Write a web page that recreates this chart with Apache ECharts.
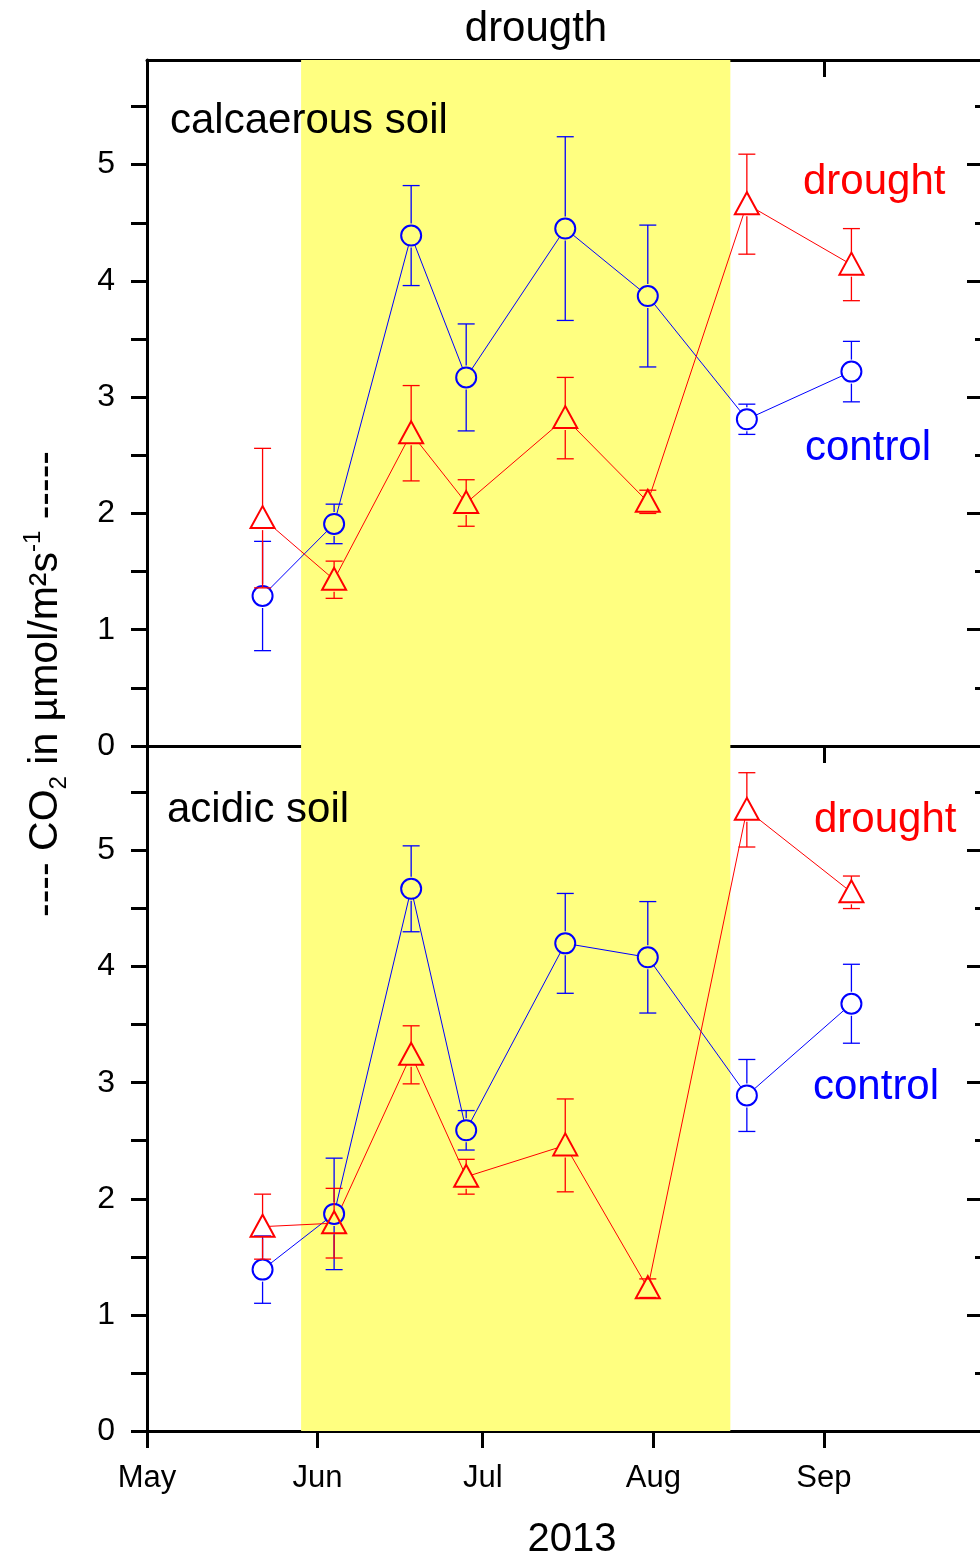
<!DOCTYPE html>
<html>
<head>
<meta charset="utf-8">
<style>
  html, body { margin: 0; padding: 0; background: #fff; }
  #chart { width: 980px; height: 1561px; }
</style>
<script src="https://cdn.jsdelivr.net/npm/echarts@6/dist/echarts.min.js"></script>
</head>
<body>
<div id="chart"></div>
<script>
// sampling dates (2013)
const sampleDates = ['2013-05-22', '2013-06-04', '2013-06-18', '2013-06-28', '2013-07-16', '2013-07-31', '2013-08-18', '2013-09-06'];

// calcaerous soil
const calcControl = [1.29, 1.91, 4.39, 3.17, 4.45, 3.87, 2.81, 3.22];
const calcControlErr = [0.47, 0.17, 0.43, 0.46, 0.79, 0.61, 0.13, 0.26];
const calcDrought = [1.96, 1.43, 2.69, 2.09, 2.82, 2.10, 4.66, 4.14];
const calcDroughtErr = [0.60, 0.16, 0.41, 0.20, 0.35, 0.10, 0.43, 0.31];

// acidic soil
const acidControl = [1.39, 1.87, 4.67, 2.59, 4.20, 4.08, 2.89, 3.68];
const acidControlErr = [0.29, 0.48, 0.37, 0.17, 0.43, 0.48, 0.31, 0.34];
const acidDrought = [1.76, 1.79, 3.24, 2.19, 2.46, 1.23, 5.35, 4.64];
const acidDroughtErr = [0.28, 0.30, 0.25, 0.15, 0.40, 0.08, 0.32, 0.14];

const droughtPeriod = ['2013-05-29', '2013-08-15'];
const xRange = ['2013-05-01', '2013-10-01'];
const monthTicks = ['2013-05-01', '2013-06-01', '2013-07-01', '2013-08-01', '2013-09-01'];
const monthLabels = ['May', 'Jun', 'Jul', 'Aug', 'Sep'];
const yTicks = [0, 0.5, 1, 1.5, 2, 2.5, 3, 3.5, 4, 4.5, 5, 5.5];
const yLabels = [0, 1, 2, 3, 4, 5];
const yMinor = [0.5, 1.5, 2.5, 3.5, 4.5, 5.5];

const FONT = '"Liberation Sans", Arial, sans-serif';
const BLUE = '#0000ff';
const RED = '#ff0000';
const YELLOW = '#ffff80';

function ts(s) { return new Date(s + 'T00:00:00').getTime(); }

const chart = echarts.init(document.getElementById('chart'));

const axisLine = { show: true, onZero: false, lineStyle: { color: '#000', width: 3 } };

function xAxis(grid, position, tickMode) {
  return {
    type: 'value', gridIndex: grid, position: position,
    min: ts(xRange[0]), max: ts(xRange[1]),
    axisLine: axisLine,
    axisTick: {
      show: tickMode !== 'none', inside: tickMode === 'in', length: 17,
      customValues: monthTicks.map(ts),
      lineStyle: { color: '#000', width: 3 }
    },
    axisLabel: {
      show: tickMode === 'out', margin: 32,
      customValues: monthTicks.map(ts),
      fontSize: 31, fontFamily: FONT, color: '#000',
      formatter: function (v) { return monthLabels[monthTicks.map(ts).indexOf(v)] || ''; }
    },
    splitLine: { show: false }
  };
}

function yAxis(grid, position, ticks, len, inside, labels) {
  return {
    type: 'value', gridIndex: grid, position: position,
    min: 0, max: 5.9,
    axisLine: axisLine,
    axisTick: { show: true, inside: inside, length: len, customValues: ticks,
      lineStyle: { color: '#000', width: 3 } },
    axisLabel: { show: !!labels, customValues: labels || [], margin: 32,
      fontSize: 32, fontFamily: FONT, color: '#000' },
    splitLine: { show: false }
  };
}

function lineSeries(grid, vals, color) {
  return {
    type: 'line', xAxisIndex: grid * 2, yAxisIndex: grid * 3,
    data: sampleDates.map((d, i) => [ts(d), vals[i]]),
    symbol: 'none', silent: true, z: 2,
    lineStyle: { color: color, width: 1 }
  };
}

function areaSeries(grid) {
  return {
    type: 'line', xAxisIndex: grid * 2, yAxisIndex: grid * 3, data: [], z: 0, silent: true,
    markArea: {
      silent: true,
      itemStyle: { color: YELLOW, opacity: 1 },
      data: [[{ xAxis: ts(droughtPeriod[0]) }, { xAxis: ts(droughtPeriod[1]) }]]
    }
  };
}

function markerSeries(grid, vals, errs, shape, color, pass) {
  return {
    type: 'custom', xAxisIndex: grid * 2, yAxisIndex: grid * 3,
    z: pass === 'fill' ? 3 : 4, silent: true, clip: false,
    data: sampleDates.map((d, i) => [ts(d), vals[i], errs[i]]),
    renderItem: function (params, api) {
      const x = api.value(0), y = api.value(1), e = api.value(2);
      const c = api.coord([x, y]);
      const hi = api.coord([x, y + e]);
      const lo = api.coord([x, y - e]);
      let el;
      if (shape === 'circle') {
        el = { type: 'circle', shape: { cx: c[0], cy: c[1], r: 10 } };
      } else {
        el = { type: 'polygon', shape: { points: [[c[0], c[1] - 12], [c[0] - 12, c[1] + 10], [c[0] + 12, c[1] + 10]] } };
      }
      if (pass === 'fill') {
        const inside = x >= ts(droughtPeriod[0]) && x <= ts(droughtPeriod[1]);
        el.style = { fill: inside ? YELLOW : '#fff' };
        return el;
      }
      el.style = { fill: 'none', stroke: color, lineWidth: 2 };
      const seg = (x1, y1, x2, y2) => ({ type: 'line', shape: { x1: x1, y1: y1, x2: x2, y2: y2 },
        style: { stroke: color, lineWidth: 1.3 } });
      const r = 12, cap = 8.5;
      const kids = [];
      if (hi[1] < c[1] - r) kids.push(seg(c[0], hi[1], c[0], c[1] - r));
      if (lo[1] > c[1] + r) kids.push(seg(c[0], c[1] + r, c[0], lo[1]));
      kids.push(seg(c[0] - cap, hi[1], c[0] + cap, hi[1]));
      kids.push(seg(c[0] - cap, lo[1], c[0] + cap, lo[1]));
      kids.push(el);
      return { type: 'group', children: kids };
    }
  };
}

function label(text, x, y, size, color, align) {
  return { type: 'text', x: x, y: y, z: 10,
    style: { text: text, fontSize: size, fontFamily: FONT, fill: color, align: align || 'left', verticalAlign: 'middle' } };
}

const option = {
  backgroundColor: '#fff',
  animation: false,
  grid: [
    { left: 147, top: 60, width: 842, height: 686, outerBoundsMode: 'none' },
    { left: 147, top: 746, width: 842, height: 685, outerBoundsMode: 'none' }
  ],
  xAxis: [
    xAxis(0, 'bottom', 'none'),
    xAxis(0, 'top', 'in'),
    xAxis(1, 'bottom', 'out'),
    xAxis(1, 'top', 'in')
  ],
  yAxis: [
    yAxis(0, 'left', yTicks, 16, false, yLabels),
    yAxis(0, 'right', yLabels, 22, true),
    yAxis(0, 'right', yMinor, 14, true),
    yAxis(1, 'left', yTicks, 16, false, yLabels),
    yAxis(1, 'right', yLabels, 22, true),
    yAxis(1, 'right', yMinor, 14, true)
  ],
  series: [
    areaSeries(0),
    areaSeries(1),
    lineSeries(0, calcControl, BLUE),
    lineSeries(0, calcDrought, RED),
    lineSeries(1, acidControl, BLUE),
    lineSeries(1, acidDrought, RED),
    markerSeries(0, calcControl, calcControlErr, 'circle', BLUE, 'fill'),
    markerSeries(0, calcDrought, calcDroughtErr, 'triangle', RED, 'fill'),
    markerSeries(1, acidControl, acidControlErr, 'circle', BLUE, 'fill'),
    markerSeries(1, acidDrought, acidDroughtErr, 'triangle', RED, 'fill'),
    markerSeries(0, calcControl, calcControlErr, 'circle', BLUE, 'stroke'),
    markerSeries(0, calcDrought, calcDroughtErr, 'triangle', RED, 'stroke'),
    markerSeries(1, acidControl, acidControlErr, 'circle', BLUE, 'stroke'),
    markerSeries(1, acidDrought, acidDroughtErr, 'triangle', RED, 'stroke')
  ],
  graphic: [
    label('drougth', 536, 29, 42, '#000', 'center'),
    label('calcaerous soil', 170, 121, 42, '#000'),
    label('acidic soil', 167, 810, 42, '#000'),
    label('drought', 803, 182, 42, RED),
    label('control', 805, 448, 42, BLUE),
    label('drought', 814, 820, 42, RED),
    label('control', 813, 1087, 42, BLUE),
    label('2013', 572, 1540, 40, '#000', 'center'),
    {
      type: 'text', x: 46, y: 684, rotation: Math.PI / 2, z: 10,
      style: {
        text: '---- CO{sub|2} in µmol/m²s{sup|-1} -----',
        fontSize: 41, fontFamily: FONT, fill: '#000', lineHeight: 50,
        align: 'center', verticalAlign: 'middle',
        rich: {
          sub: { fontSize: 24, lineHeight: 24, verticalAlign: 'bottom', fontFamily: FONT, fill: '#000' },
          sup: { fontSize: 24, lineHeight: 24, verticalAlign: 'top', fontFamily: FONT, fill: '#000' }
        }
      }
    }
  ]
};

chart.setOption(option);
</script>
</body>
</html>
